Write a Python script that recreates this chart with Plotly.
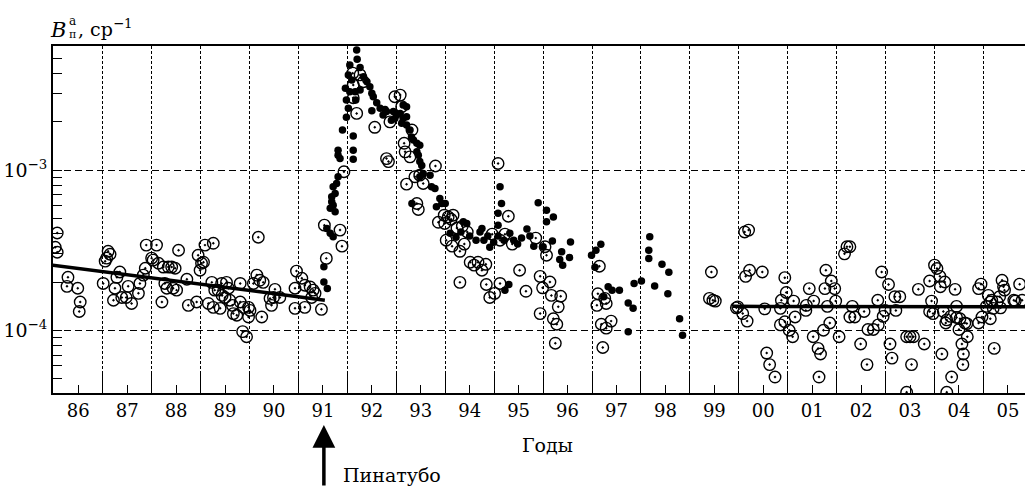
import plotly.graph_objects as go

# ---- data (years as decimal, B values in sr^-1) ----
open_years = [
    1986.07, 1986.03, 1986.07, 1986.29, 1986.27, 1986.49, 1986.54, 1986.52,
    1987.05, 1987.08, 1987.11, 1987.15, 1987.01, 1987.22, 1987.25, 1987.29, 1987.35, 1987.39,
    1987.52, 1987.48, 1987.59, 1987.73, 1987.76, 1987.83, 1987.87, 1987.89,
    1988.00, 1988.03, 1988.10, 1988.14, 1988.24, 1988.21, 1988.27, 1988.34, 1988.41, 1988.48,
    1988.44, 1988.51, 1988.31, 1988.55, 1988.72, 1988.75, 1988.92, 1988.95,
    1989.06, 1989.02, 1989.09, 1989.26, 1989.23, 1989.16, 1989.26, 1989.40, 1989.43, 1989.36,
    1989.53, 1989.50, 1989.60, 1989.67, 1989.74, 1989.81, 1989.81, 1989.88, 1989.98, 1989.98,
    1990.01, 1990.08, 1990.15, 1990.21, 1990.28, 1990.18, 1990.25, 1990.42, 1990.45, 1990.49,
    1990.52, 1990.62, 1990.96, 1991.07, 1990.93, 1991.13, 1991.24, 1991.30, 1991.34, 1990.93,
    1991.13, 1991.47, 1991.27, 1989.86, 1989.94, 1988.99, 1989.29, 1989.44, 1989.57, 1989.65,
    # after eruption
    1992.26, 1992.11, 1992.33, 1992.12, 1992.12, 1992.19, 1992.56, 1992.97, 1993.08, 1993.11,
    1992.87, 1993.32, 1993.16, 1993.18, 1993.28, 1992.80, 1992.84, 1991.93, 1993.38, 1993.48,
    1993.55, 1993.21, 1993.42, 1993.45, 1993.80, 1995.08, 1995.29, 1994.06, 1994.16, 1993.99,
    1991.53, 1991.85, 1991.57, 1991.89,
    1993.86, 1993.98, 1994.12, 1994.24, 1994.35, 1994.45, 1994.02, 1994.14, 1994.30, 1994.51,
    1994.59, 1994.67, 1994.75, 1994.83, 1994.39, 1994.96, 1995.12, 1995.22, 1995.37, 1994.91,
    1995.01, 1995.12, 1994.84, 1995.52, 1995.65, 1995.85, 1994.30,
    1996.04, 1996.07, 1995.94, 1996.14, 1995.99, 1996.17, 1996.36, 1996.31, 1995.94, 1996.21,
    1996.28, 1996.25, 1997.15, 1997.12, 1997.10, 1997.26, 1997.29, 1997.19, 1997.29, 1997.39,
    1997.22, 1999.44, 1999.40, 1999.52, 1999.47,
    2000.12, 2000.20, 2000.14, 2000.22, 2000.48, 1999.98, 2000.08, 2000.17, 2000.53, 2000.94,
    2000.97, 2001.12, 2000.87, 2000.85, 2000.85, 2000.94, 2001.03, 2001.10, 2001.15, 2001.44,
    2001.37, 2001.38, 2001.53, 2001.78, 2001.89, 2001.76, 2001.96, 2001.81, 2001.73, 2001.86,
    2001.52, 2001.62, 2002.05, 2000.57, 2000.63, 2000.74, 2001.64, 2001.67, 2001.98, 1999.95,
    2002.21, 2002.16, 2002.27, 2002.32, 2002.27, 2002.37, 2002.49, 2002.56, 2002.62, 2002.64,
    2002.75, 2002.85, 2002.84, 2002.92, 2002.95, 2002.99, 2003.06, 2003.09, 2003.13, 2003.19,
    2003.29, 2003.21, 2003.43, 2003.50, 2003.57, 2003.43, 2003.53, 2003.67, 2003.79, 2003.90,
    2003.94, 2003.90, 2004.00, 2004.05, 2004.11, 2004.12, 2004.21, 2003.97, 2004.15, 2004.18,
    2004.25, 2004.23, 2004.33, 2004.35, 2004.25, 2004.42, 2004.45, 2004.45, 2004.52, 2004.50,
    2004.62, 2004.66, 2004.67, 2004.56, 2004.59, 2004.58, 2004.90, 2004.90, 2004.95, 2004.97,
    2005.06, 2005.10, 2005.14, 2005.17, 2005.20, 2005.22, 2005.14, 2005.33, 2005.38, 2005.41,
    2005.43, 2005.28, 2005.35, 2005.62, 2005.65, 2005.74, 2005.79,
]
open_vals = [
    4.05e-4, 3.30e-4, 3.07e-4, 2.14e-4, 1.88e-4, 1.83e-4, 1.50e-4, 1.31e-4,
    2.70e-4, 2.82e-4, 3.11e-4, 2.98e-4, 1.96e-4, 1.54e-4, 1.83e-4, 2.14e-4, 2.31e-4, 1.60e-4,
    1.88e-4, 1.60e-4, 1.47e-4, 1.70e-4, 1.96e-4, 2.21e-4, 2.44e-4, 3.40e-4,
    2.82e-4, 2.74e-4, 3.40e-4, 2.62e-4, 2.48e-4, 1.50e-4, 1.96e-4, 2.48e-4, 2.48e-4, 2.44e-4,
    1.83e-4, 1.78e-4, 1.83e-4, 3.16e-4, 2.08e-4, 1.43e-4, 1.50e-4, 2.94e-4,
    2.66e-4, 2.62e-4, 3.40e-4, 3.49e-4, 1.99e-4, 1.47e-4, 1.39e-4, 1.37e-4, 1.96e-4, 1.78e-4,
    1.99e-4, 1.60e-4, 1.54e-4, 1.27e-4, 1.24e-4, 1.96e-4, 1.50e-4, 1.39e-4, 1.39e-4, 1.21e-4,
    1.33e-4, 1.96e-4, 2.21e-4, 2.05e-4, 1.99e-4, 3.81e-4, 1.21e-4, 1.58e-4, 1.43e-4, 1.60e-4,
    1.80e-4, 1.60e-4, 2.34e-4, 2.11e-4, 1.83e-4, 1.91e-4, 1.86e-4, 1.78e-4, 1.70e-4, 1.37e-4,
    1.39e-4, 1.35e-4, 1.60e-4, 0.98e-4, 0.91e-4, 2.37e-4, 1.78e-4, 1.65e-4, 1.83e-4, 1.43e-4,
    # after eruption
    3.93e-3, 4.03e-3, 3.56e-3, 3.40e-3, 2.83e-3, 2.26e-3, 1.85e-3, 2.87e-3, 2.94e-3, 2.49e-3,
    2.00e-3, 1.78e-3, 1.47e-3, 1.30e-3, 1.21e-3, 1.18e-3, 1.13e-3, 9.76e-4, 9.08e-4, 9.30e-4,
    8.25e-4, 8.17e-4, 6.19e-4, 5.68e-4, 1.06e-3, 1.10e-3, 5.15e-4, 5.10e-4, 5.23e-4, 4.64e-4,
    4.53e-4, 4.22e-4, 2.81e-4, 3.35e-4,
    4.72e-4, 5.23e-4, 4.93e-4, 4.35e-4, 4.47e-4, 4.11e-4, 3.65e-4, 3.35e-4, 3.11e-4, 2.66e-4,
    2.55e-4, 2.66e-4, 2.37e-4, 2.58e-4, 3.45e-4, 3.98e-4, 3.65e-4, 3.98e-4, 3.45e-4, 1.60e-4,
    1.70e-4, 1.96e-4, 1.93e-4, 2.37e-4, 1.75e-4, 3.76e-4, 1.99e-4,
    3.32e-4, 2.94e-4, 2.17e-4, 2.00e-4, 1.84e-4, 1.65e-4, 1.63e-4, 1.40e-4, 1.27e-4, 1.18e-4,
    1.09e-4, 0.83e-4, 2.51e-4, 1.69e-4, 1.43e-4, 1.58e-4, 1.47e-4, 1.09e-4, 1.03e-4, 1.14e-4,
    0.78e-4, 2.31e-4, 1.58e-4, 1.52e-4, 1.54e-4,
    4.11e-4, 4.22e-4, 2.17e-4, 2.37e-4, 2.31e-4, 1.40e-4, 1.27e-4, 1.14e-4, 1.36e-4, 2.13e-4,
    1.72e-4, 1.52e-4, 1.54e-4, 1.37e-4, 1.08e-4, 1.13e-4, 1.00e-4, 0.91e-4, 1.21e-4, 1.82e-4,
    1.33e-4, 1.43e-4, 1.52e-4, 2.37e-4, 2.03e-4, 1.82e-4, 1.82e-4, 1.41e-4, 1.00e-4, 1.11e-4,
    0.91e-4, 0.77e-4, 0.91e-4, 0.72e-4, 0.61e-4, 0.51e-4, 0.51e-4, 0.71e-4, 1.52e-4, 1.38e-4,
    3.32e-4, 3.00e-4, 3.32e-4, 1.41e-4, 1.21e-4, 1.21e-4, 0.82e-4, 1.31e-4, 0.61e-4, 1.01e-4,
    1.01e-4, 1.08e-4, 1.54e-4, 2.31e-4, 1.22e-4, 1.33e-4, 1.93e-4, 0.82e-4, 0.67e-4, 1.62e-4,
    1.62e-4, 1.33e-4, 0.91e-4, 0.91e-4, 0.91e-4, 0.41e-4, 0.61e-4, 1.80e-4, 0.82e-4, 2.03e-4,
    1.52e-4, 1.31e-4, 2.55e-4, 2.43e-4, 2.17e-4, 1.87e-4, 2.00e-4, 1.27e-4, 0.71e-4, 1.31e-4,
    1.16e-4, 1.11e-4, 1.22e-4, 0.51e-4, 0.41e-4, 1.80e-4, 1.41e-4, 1.20e-4, 1.18e-4, 1.01e-4,
    1.11e-4, 1.10e-4, 0.91e-4, 0.82e-4, 0.71e-4, 0.61e-4, 1.11e-4, 1.82e-4, 1.94e-4, 1.21e-4,
    1.41e-4, 1.65e-4, 1.50e-4, 1.54e-4, 1.37e-4, 0.77e-4, 1.18e-4, 1.62e-4, 2.05e-4, 1.87e-4,
    1.78e-4, 1.50e-4, 1.38e-4, 1.54e-4, 1.52e-4, 1.94e-4, 1.54e-4,
]

dot_years = [
    1992.19, 1992.20, 1992.05, 1992.26, 1992.02, 1992.33, 1992.09, 1992.40, 1992.46, 1991.96,
    1992.05, 1992.16, 1992.26, 1992.50, 1992.53, 1991.98, 1992.17, 1992.60, 1992.02, 1992.50,
    1992.67, 1992.77, 1991.98, 1992.73, 1992.80, 1992.94, 1993.01, 1992.90, 1992.97, 1993.21,
    1993.14, 1993.08, 1993.14, 1993.21, 1993.11, 1993.21, 1993.28, 1993.31, 1993.35, 1993.42,
    1993.48, 1993.42, 1993.45, 1993.48, 1993.52, 1991.90, 1992.12, 1992.12, 1992.12, 1991.81,
    1991.81, 1991.85, 1991.81, 1991.78, 1991.71, 1991.75, 1991.68, 1991.68, 1991.71, 1991.75,
    1991.65, 1991.58, 1991.65, 1991.71, 1991.52, 1991.52, 1991.59,
    1993.69, 1993.72, 1993.79, 1993.89, 1993.93, 1993.82, 1994.00, 1994.37, 1994.44, 1994.75,
    1995.12, 1995.15, 1995.08, 1995.08, 1995.90, 1996.07, 1996.07, 1996.21, 1993.32, 1993.48,
    1993.55,
    1996.19, 1996.00, 1996.38, 1996.56, 1996.54, 1996.34, 1996.40, 1996.99, 1997.08, 1997.18,
    1997.06, 1998.18, 1998.16, 1998.16, 1998.43, 1998.57, 1998.28, 1998.55, 1998.01, 1997.86,
    1997.56, 1997.41, 1997.33, 1997.24, 1997.74, 1997.84, 1997.74, 1998.79, 1998.85,
    1994.10, 1994.22, 1994.32, 1994.50, 1994.63, 1994.71, 1994.79, 1994.87, 1994.91, 1994.99,
    1995.08, 1995.20, 1995.32, 1995.40, 1995.48, 1995.56, 1995.67, 1995.73, 1995.81, 1995.22,
    1995.30,
]
dot_vals = [
    5.62e-3, 4.93e-3, 4.53e-3, 4.38e-3, 3.93e-3, 3.83e-3, 3.65e-3, 3.56e-3, 3.31e-3, 3.24e-3,
    3.09e-3, 3.09e-3, 3.16e-3, 3.02e-3, 2.87e-3, 2.74e-3, 2.74e-3, 2.63e-3, 2.43e-3, 2.35e-3,
    2.43e-3, 2.39e-3, 2.14e-3, 2.21e-3, 2.32e-3, 2.32e-3, 2.21e-3, 2.05e-3, 2.10e-3, 2.49e-3,
    2.55e-3, 2.26e-3, 2.10e-3, 2.15e-3, 1.96e-3, 1.91e-3, 1.78e-3, 1.61e-3, 1.54e-3, 1.47e-3,
    1.43e-3, 1.30e-3, 1.24e-3, 1.13e-3, 1.07e-3, 1.78e-3, 1.63e-3, 1.33e-3, 1.17e-3, 1.33e-3,
    1.24e-3, 1.18e-3, 9.08e-4, 8.25e-4, 7.87e-4, 7.15e-4, 6.81e-4, 6.34e-4, 6.04e-4, 5.49e-4,
    5.78e-4, 4.32e-4, 4.03e-4, 3.83e-4, 2.49e-4, 2.00e-4, 1.82e-4,
    9.30e-4, 7.87e-4, 7.68e-4, 6.64e-4, 6.19e-4, 5.90e-4, 6.19e-4, 4.75e-4, 4.64e-4, 4.32e-4,
    7.87e-4, 6.19e-4, 5.38e-4, 4.53e-4, 6.25e-4, 5.62e-4, 4.75e-4, 5.10e-4, 6.19e-4, 9.08e-4,
    9.54e-4,
    3.61e-4, 3.32e-4, 3.09e-4, 3.56e-4, 2.85e-4, 2.77e-4, 2.55e-4, 2.94e-4, 3.16e-4, 3.44e-4,
    2.47e-4, 3.83e-4, 3.16e-4, 2.81e-4, 2.58e-4, 2.30e-4, 1.89e-4, 1.69e-4, 2.03e-4, 1.96e-4,
    1.78e-4, 1.78e-4, 1.87e-4, 1.62e-4, 1.48e-4, 1.37e-4, 0.98e-4, 1.18e-4, 0.93e-4,
    4.03e-4, 3.81e-4, 4.11e-4, 3.87e-4, 3.65e-4, 4.11e-4, 3.65e-4, 3.87e-4, 3.30e-4, 3.54e-4,
    3.87e-4, 3.65e-4, 4.03e-4, 3.65e-4, 3.45e-4, 3.76e-4, 4.28e-4, 3.87e-4, 3.35e-4, 1.78e-4,
    1.93e-4,
]

# trend lines (before eruption, after 2000)
fit1_years = [1985.98, 1991.54]
fit1_vals = [2.55e-4, 1.54e-4]
fit2_years = [1999.88, 2005.85]
fit2_vals = [1.41e-4, 1.40e-4]

tick_years = [1986.5 + i for i in range(20)]
tick_labels = ["86", "87", "88", "89", "90", "91", "92", "93", "94", "95", "96", "97",
               "98", "99", "00", "01", "02", "03", "04", "05"]
year_bounds = [1987 + i for i in range(19)]
y_major = [1e-4, 1e-3]
y_major_text = ["10<sup>−4</sup>", "10<sup>−3</sup>"]
y_minor = [5e-5, 6e-5, 7e-5, 8e-5, 9e-5, 2e-4, 3e-4, 4e-4, 5e-4, 6e-4, 7e-4, 8e-4, 9e-4,
           2e-3, 3e-3, 4e-3, 5e-3]

FONT = "DejaVu Serif"

fig = go.Figure()
fig.add_trace(go.Scatter(x=fit1_years, y=fit1_vals, mode="lines",
                         line=dict(color="black", width=3.5), hoverinfo="skip"))
fig.add_trace(go.Scatter(x=fit2_years, y=fit2_vals, mode="lines",
                         line=dict(color="black", width=3.5), hoverinfo="skip"))
fig.add_trace(go.Scatter(x=dot_years, y=dot_vals, mode="markers",
                         marker=dict(symbol="circle", size=7.5, color="black",
                                     line=dict(width=0))))
fig.add_trace(go.Scatter(x=open_years, y=open_vals, mode="markers",
                         marker=dict(symbol="circle-open-dot", size=11.5, color="black",
                                     line=dict(width=1.4, color="black"))))

fig.update_layout(
    width=1025, height=488, autosize=False,
    margin=dict(l=53, r=0, t=46, b=95, autoexpand=False),
    paper_bgcolor="white", plot_bgcolor="white",
    showlegend=False,
    font=dict(family=FONT, size=18, color="black"),
)
fig.update_xaxes(
    range=[1985.984, 2005.849], automargin=False,
    tickmode="array", tickvals=tick_years, ticktext=tick_labels,
    ticks="inside", ticklen=8, tickwidth=1, tickcolor="black",
    showgrid=False, zeroline=False,
    showline=True, linecolor="black", linewidth=2, mirror=True,
    tickfont=dict(family=FONT, size=18),
    minor=dict(tickmode="array", tickvals=year_bounds, ticks="inside", ticklen=20,
               tickwidth=1, tickcolor="black", showgrid=True, gridcolor="black",
               gridwidth=1, griddash="3px,2px"),
)
fig.update_yaxes(
    type="log", range=[-4.392, -2.225], automargin=False,
    tickmode="array", tickvals=y_major, ticktext=y_major_text,
    ticks="inside", ticklen=9, tickwidth=1, tickcolor="black",
    showgrid=True, gridcolor="black", gridwidth=1, griddash="7px,4px",
    zeroline=False, showline=True, linecolor="black", linewidth=2, mirror=False,
    tickfont=dict(family=FONT, size=19),
    minor=dict(tickmode="array", tickvals=y_minor, ticks="inside", ticklen=9,
               tickwidth=1.2, tickcolor="black", showgrid=False),
)

annotations = [
    dict(text="<i>B</i>", xref="paper", yref="paper", x=-0.005, y=1.046,
         xanchor="left", yanchor="middle", showarrow=False, font=dict(family=FONT, size=21)),
    dict(text="a", xref="paper", yref="paper", x=0.0145, y=1.072, xanchor="left",
         yanchor="middle", showarrow=False, font=dict(family=FONT, size=12)),
    dict(text="π", xref="paper", yref="paper", x=0.0145, y=1.032, xanchor="left",
         yanchor="middle", showarrow=False, font=dict(family=FONT, size=11)),
    dict(text=", ср<sup>−1</sup>", xref="paper", yref="paper", x=0.0235, y=1.052,
         xanchor="left", yanchor="middle", showarrow=False, font=dict(family=FONT, size=19)),
    dict(text="Годы", xref="paper", yref="paper", x=0.509, y=-0.151, xanchor="center",
         yanchor="middle", showarrow=False, font=dict(family=FONT, size=19)),
    dict(text="Пинатубо", xref="x", yref="paper", x=1991.87, y=-0.235, xanchor="left",
         yanchor="middle", showarrow=False, font=dict(family=FONT, size=19)),
    dict(text="", xref="x", yref="paper", x=1991.52, y=-0.092, showarrow=True,
         ax=0, ay=62, arrowhead=2, arrowsize=1.3, arrowwidth=3.5, arrowcolor="black"),
]
fig.update_layout(annotations=annotations)

fig.write_html("out.html", config={"displayModeBar": False},
               post_script="document.body.style.margin='0px';")
